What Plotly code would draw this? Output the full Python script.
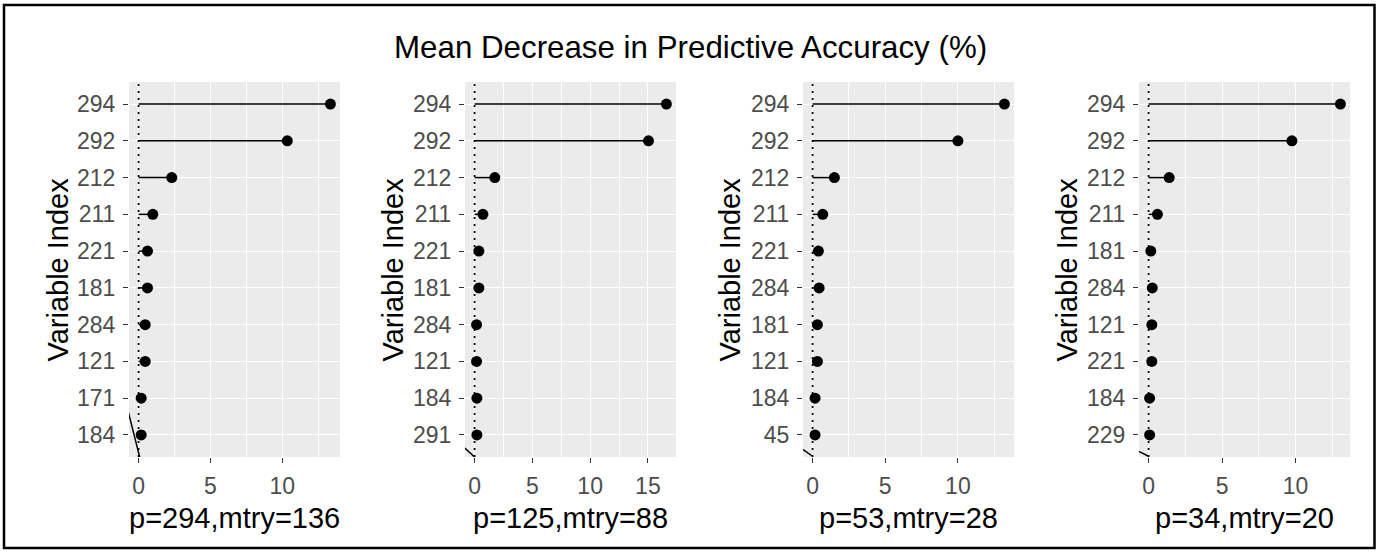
import plotly.graph_objects as go

W, H = 1381, 552

main_title = "Mean Decrease in Predictive Accuracy (%)"
y_title = "Variable Index"
panel_titles = ["p=294,mtry=136", "p=125,mtry=88", "p=53,mtry=28", "p=34,mtry=20"]

cats1 = ["294", "292", "212", "211", "221", "181", "284", "121", "171", "184"]
vals1 = [13.35, 10.35, 2.31, 0.99, 0.62, 0.62, 0.46, 0.46, 0.18, 0.18]
cats2 = ["294", "292", "212", "211", "221", "181", "284", "121", "184", "291"]
vals2 = [16.6, 15.05, 1.75, 0.72, 0.37, 0.37, 0.17, 0.17, 0.2, 0.2]
cats3 = ["294", "292", "212", "211", "221", "284", "181", "121", "184", "45"]
vals3 = [13.2, 10.0, 1.5, 0.7, 0.4, 0.45, 0.33, 0.33, 0.17, 0.17]
cats4 = ["294", "292", "212", "211", "181", "284", "121", "221", "184", "229"]
vals4 = [13.05, 9.75, 1.4, 0.6, 0.15, 0.25, 0.22, 0.22, 0.07, 0.07]

# small stray segments near the lower-left corner of each panel
stray_x = [[-0.72, 0.075], [-0.95, 0.0], [-0.65, 0.0], [-0.8, 0.0]]
stray_y = [[1.63, 0.4], [0.67, 0.4], [0.6, 0.42], [0.58, 0.42]]

x_ticks = [0, 5, 10, 15]

cats_all = [cats1, cats2, cats3, cats4]
vals_all = [vals1, vals2, vals3, vals4]

# layout (pixels)
panel_left = [129, 465, 803, 1139]
panel_width = 211
plot_top, plot_bottom = 82, 457
ytitle_x = [57, 392, 729, 1066]

FONT = "Liberation Sans, Arial, sans-serif"

fig = go.Figure()
layout = dict(
    width=W, height=H, margin=dict(l=0, r=0, t=0, b=0),
    paper_bgcolor="white", plot_bgcolor="#EBEBEB",
    showlegend=False, font=dict(family=FONT),
)
annotations = []

for i in range(4):
    cats = cats_all[i]
    vals = vals_all[i]
    n = len(cats)
    ypos = list(range(n, 0, -1))
    xa = "x" if i == 0 else f"x{i+1}"
    ya = "y" if i == 0 else f"y{i+1}"
    vmax = max(vals)
    xr = [-0.05 * vmax, 1.05 * vmax]

    # lollipop stems
    sx, sy = [], []
    for v, yp in zip(vals, ypos):
        sx += [0, v, None]
        sy += [yp, yp, None]
    fig.add_trace(go.Scatter(x=sx, y=sy, mode="lines", xaxis=xa, yaxis=ya,
                             line=dict(color="black", width=1.5), hoverinfo="skip"))
    # dotted reference line at 0
    fig.add_trace(go.Scatter(x=[0, 0], y=[0.4, n + 0.6], mode="lines", xaxis=xa, yaxis=ya,
                             line=dict(color="black", width=1.7, dash="2px,5px"), hoverinfo="skip"))
    # stray segment
    fig.add_trace(go.Scatter(x=stray_x[i], y=stray_y[i], mode="lines", xaxis=xa, yaxis=ya,
                             line=dict(color="black", width=1.5), hoverinfo="skip"))
    # points
    fig.add_trace(go.Scatter(x=vals, y=ypos, mode="markers", xaxis=xa, yaxis=ya,
                             marker=dict(color="black", size=11, line=dict(width=0))))

    x0 = panel_left[i] / W
    x1 = (panel_left[i] + panel_width) / W
    y0 = 1 - plot_bottom / H
    y1 = 1 - plot_top / H
    layout["xaxis" if i == 0 else f"xaxis{i+1}"] = dict(
        domain=[x0, x1], anchor=ya, range=xr,
        tickmode="array", tickvals=x_ticks, ticktext=[str(t) for t in x_ticks],
        ticks="outside", ticklen=5, tickwidth=1.2, tickcolor="#333333",
        tickfont=dict(size=23, color="#4D4D4D", family=FONT),
        showgrid=True, gridcolor="white", gridwidth=1.1, zeroline=False,
        minor=dict(dtick=2.5, tick0=0, showgrid=True, gridcolor="white", gridwidth=0.55, ticks=""),
        showline=False, fixedrange=True, ticklabelstandoff=3,
    )
    layout["yaxis" if i == 0 else f"yaxis{i+1}"] = dict(
        domain=[y0, y1], anchor=xa, range=[0.4, n + 0.6],
        tickmode="array", tickvals=ypos, ticktext=cats,
        ticks="outside", ticklen=5, tickwidth=1.2, tickcolor="#333333",
        tickfont=dict(size=23, color="#4D4D4D", family=FONT),
        showgrid=True, gridcolor="white", gridwidth=1.1, zeroline=False,
        showline=False, fixedrange=True, ticklabelstandoff=3,
    )
    annotations.append(dict(
        text=y_title, xref="paper", yref="paper", x=ytitle_x[i] / W,
        y=1 - (plot_top + plot_bottom) / 2 / H, textangle=-90, showarrow=False,
        xanchor="center", yanchor="middle",
        font=dict(size=29, color="black", family=FONT)))
    annotations.append(dict(
        text=panel_titles[i], xref="paper", yref="paper",
        x=(panel_left[i] + panel_width / 2) / W, y=1 - 518 / H,
        showarrow=False, xanchor="center", yanchor="middle",
        font=dict(size=29, color="black", family=FONT)))

annotations.append(dict(
    text=main_title, xref="paper", yref="paper", x=0.5, y=1 - 47 / H,
    showarrow=False, xanchor="center", yanchor="middle",
    font=dict(size=31.3, color="black", family=FONT)))

layout["annotations"] = annotations
layout["shapes"] = [dict(type="rect", xref="paper", yref="paper",
                         x0=4 / W, x1=1374.5 / W, y0=1 - 548 / H, y1=1 - 5 / H,
                         line=dict(color="black", width=2.5), fillcolor="rgba(0,0,0,0)",
                         layer="above")]
fig.update_layout(**layout)
fig.write_html("out.html")
